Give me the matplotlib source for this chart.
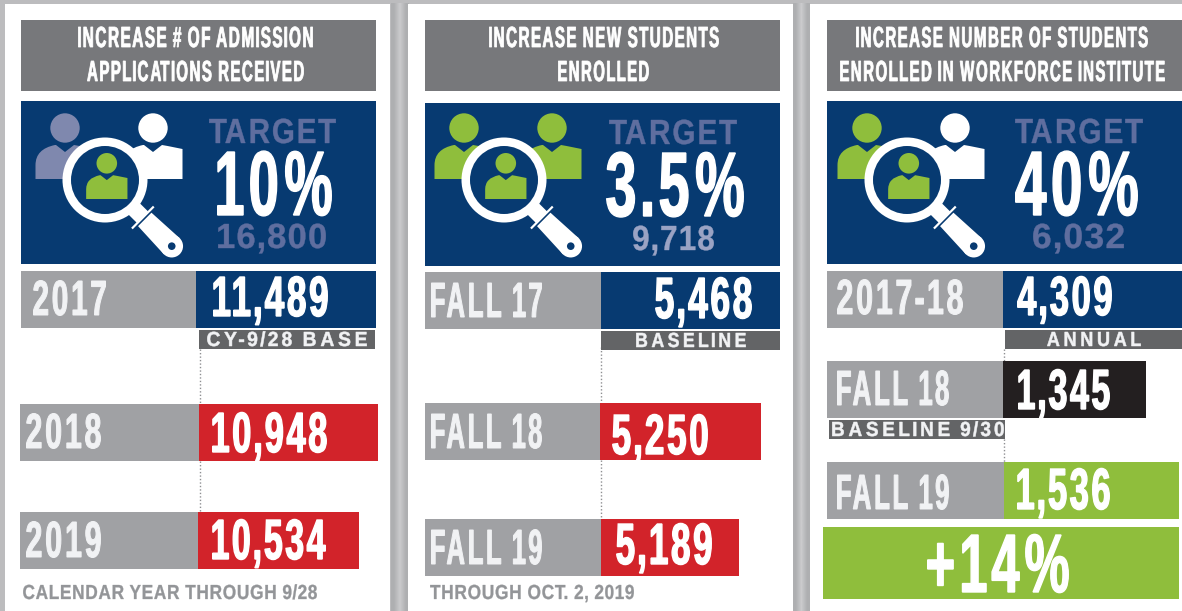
import numpy as np
import matplotlib
matplotlib.use("Agg")
import matplotlib.pyplot as plt
from matplotlib.patches import Rectangle, Circle, PathPatch, Polygon
from matplotlib.path import Path
from matplotlib.patheffects import AbstractPathEffect
from matplotlib.transforms import Affine2D
from matplotlib.textpath import TextPath
from matplotlib.font_manager import FontProperties
from matplotlib.colors import LinearSegmentedColormap

# ---- data ----
titles = [["INCREASE # OF ADMISSION", "APPLICATIONS RECEIVED"],
          ["INCREASE NEW STUDENTS", "ENROLLED"],
          ["INCREASE NUMBER OF STUDENTS", "ENROLLED IN WORKFORCE INSTITUTE"]]
target_pct = ["10%", "3.5%", "40%"]
target_val = [16800, 9718, 6032]
labels_1 = ["2017", "2018", "2019"]
values_1 = [11489, 10948, 10534]
labels_2 = ["FALL 17", "FALL 18", "FALL 19"]
values_2 = [5468, 5250, 5189]
labels_3 = ["2017-18", "FALL 18", "FALL 19"]
values_3 = [4309, 1345, 1536]
change_3 = "+14%"
tags = ["CY-9/28 BASE", "BASELINE", "ANNUAL", "BASELINE 9/30"]
notes = ["CALENDAR YEAR THROUGH 9/28", "THROUGH OCT. 2, 2019"]

# ---- colours ----
GREY_T = "#77787b"; BLUE = "#073a71"; GREY = "#a0a1a4"; LBL = "#f1f2f4"
RED = "#d2232a"; GREEN = "#8fbe3c"; BLACK = "#231f20"; TAG = "#636466"
FOOT = "#939598"; DIM = "#5f6e9f"; PALE = "#9aa3c4"; ICON_DIM = "#7f88ae"

W, H = 1182, 611
fig = plt.figure(figsize=(W / 100, H / 100), dpi=100, facecolor="white")
ax = fig.add_axes([0, 0, 1, 1])
ax.set_xlim(0, W); ax.set_ylim(H, 0); ax.axis("off")
FP = FontProperties(family="Liberation Sans", weight="bold")


def condense(path, k):
    """Narrow each glyph about its own centre, which keeps its place and opens the gaps."""
    v = path.vertices.copy(); c = path.codes
    if c is None or k == 1:
        return path
    starts = list(np.where(c == Path.MOVETO)[0]) + [len(c)]
    subs = []
    for s, e in zip(starts[:-1], starts[1:]):
        idx = np.arange(s, e)[c[s:e] != Path.CLOSEPOLY]
        subs.append((v[idx, 0].min(), v[idx, 0].max(), idx))
    subs.sort(key=lambda t: t[0])
    clusters = []
    for a, b, idx in subs:
        if clusters and a < clusters[-1][1]:
            clusters[-1][1] = max(clusters[-1][1], b)
            clusters[-1][2].append(idx)
        else:
            clusters.append([a, b, [idx]])
    for a, b, ids in clusters:
        m = (a + b) / 2
        for idx in ids:
            v[idx, 0] = m + (v[idx, 0] - m) * k
    return Path(v, c)


class Fit(AbstractPathEffect):
    """Draw a text's outline at the width and height it has in the design (condensed face)."""
    def __init__(self, x0, x1, base_px, sy, stroke=0.0, k=1.0):
        super().__init__()
        self.x0, self.x1, self.base_px, self.sy, self.stroke, self.k = x0, x1, base_px, sy, stroke, k

    def draw_path(self, renderer, gc, tpath, affine, rgbFace=None):
        tp = condense(tpath, self.k)
        ext = tp.get_extents(affine)
        pad = self.stroke / 2
        sx = (self.x1 - self.x0 - 2 * pad) / max(ext.width, 1e-6)
        a = (affine + Affine2D().translate(-ext.x0, -self.base_px).scale(sx, self.sy)
             .translate(self.x0 + pad, self.base_px))
        if self.stroke:
            g = renderer.new_gc(); g.copy_properties(gc)
            g.set_linewidth(self.stroke * 72 / 100); g.set_foreground(rgbFace)
            g.set_joinstyle("miter")
            renderer.draw_path(g, tp, a, rgbFace)
            g.restore()
        else:
            renderer.draw_path(gc, tp, a, rgbFace)


def txt(s, x0, x1, top, base, color, stroke=0.0, k=1.0, max_f=1.0):
    size = (base - top) / 0.688 * 0.72
    natural = TextPath((0, 0), s, size=size * 100 / 72, prop=FP).get_extents().width
    nominal = size * min(max_f, (x1 - x0) / natural)
    ax.text(x0, base, s, ha="left", va="baseline", fontsize=nominal, color=color,
            fontproperties=FP.copy(), zorder=6, clip_on=False,
            path_effects=[Fit(x0, x1, H - base, size / nominal, stroke, k)]).set_fontsize(nominal)


def rect(x0, y0, x1, y1, color, z=1):
    ax.add_patch(Rectangle((x0, y0), x1 - x0, y1 - y0, fc=color, ec="none", lw=0, zorder=z))


def strip(x0, x1, y0, y1, c_edge, c_mid):
    img = np.array([[0.0, 1.0, 0.0]])
    cm = LinearSegmentedColormap.from_list("s", [c_edge, c_mid])
    ax.imshow(img, extent=(x0, x1, y1, y0), cmap=cm, aspect="auto",
              interpolation="bilinear", zorder=0.5, vmin=0, vmax=1)


def person(cx, head_y, s, color, z):
    ax.add_patch(Circle((cx, head_y), 14.7 * s, fc=color, ec="none", zorder=z))
    y = head_y + 17 * s
    hw = 29.5 * s; h = 34 * s
    v = [(-hw, h), (-hw, 20 * s), (-hw, 4 * s), (-10 * s, 0), (-9 * s, 0),
         (0, 7 * s), (9 * s, 0), (10 * s, 0), (hw, 4 * s), (hw, 20 * s), (hw, h), (-hw, h)]
    c = [Path.MOVETO, Path.LINETO, Path.CURVE3, Path.CURVE3, Path.LINETO,
         Path.LINETO, Path.LINETO, Path.CURVE3, Path.CURVE3, Path.LINETO,
         Path.LINETO, Path.CLOSEPOLY]
    ax.add_patch(PathPatch(Path([(cx + a, y + b) for a, b in v], c), fc=color, ec="none", zorder=z))


def icon(dx, dy, left_col, right_col):
    person(65 + dx, 128 + dy, 1, left_col, 3)
    person(153 + dx, 128 + dy, 1, right_col, 3)
    cx, cy = 105 + dx, 180 + dy
    ax.add_patch(Circle((cx, cy), 42.5, fc="white", ec="none", zorder=4))
    ax.add_patch(Circle((cx, cy), 34, fc=BLUE, ec="none", zorder=4.1))
    person(106.8 + dx, 163.3 + dy, 0.70, GREEN, 4.2)
    u = np.array([0.71, 0.704]); n = np.array([-0.704, 0.71]); c0 = np.array([cx, cy])
    def quad(t0, t1, w0, w1, col, z):
        p = [c0 + u * t0 - n * w0, c0 + u * t1 - n * w1, c0 + u * t1 + n * w1, c0 + u * t0 + n * w0]
        ax.add_patch(Polygon(p, closed=True, fc=col, ec="none", zorder=z))
    quad(41, 53, 8, 8, "white", 3.9)
    quad(52.2, 54.4, 15.5, 15.5, "white", 5)
    quad(56, 94, 9.5, 11.3, "white", 5.2)
    e = c0 + u * 94
    ax.add_patch(Circle(e, 11.3, fc="white", ec="none", zorder=5.3))
    ax.add_patch(Circle(e, 3.8, fc=BLUE, ec="none", zorder=5.4))


def dotted(x, y0, y1):
    ax.plot([x, x], [y0, y1], color="#8e8f92", lw=1.0, ls=(0, (1, 1.5)), zorder=1, solid_capstyle="butt")


# ---- background cards ----
rect(0, 0, W, H, "#bcbcbe", 0)
for x0, x1 in [(5, 390), (408, 793), (810, 1182)]:
    rect(x0, 4, x1, H, "white", 0.8)
strip(390.5, 408, 3, H, "#aeafb1", "#cbcbcd")
strip(793, 810, 3, H, "#aeafb1", "#cbcbcd")

# ---- title bands ----
bands = [(21, 376), (425, 780), (827, 1182)]
title_x = [[(78, 313), (87, 304)], [(489, 719), (558, 649)], [(856, 1148), (840, 1165)]]
for (b0, b1), t, xs in zip(bands, titles, title_x):
    rect(b0, 20, b1, 91, GREY_T)
    for line, (a0, a1), (top, base) in zip(t, xs, [(27, 47), (61, 81)]):
        txt(line, a0, a1, top, base, "white", 0.8, 0.88)

# ---- target boxes ----
boxes = [(21, 376, 101, 264), (425, 780, 103, 266), (827, 1182, 101, 264)]
for b in boxes:
    rect(b[0], b[2], b[1], b[3], BLUE, 2)
icon(0, 0, ICON_DIM, "white")
icon(399, 0, GREEN, GREEN)
icon(802, 0, GREEN, "white")

t_x = [(209, 336), (609, 737), (1015, 1143)]
t_y = [(119, 143), (120, 144), (119, 143)]
p_x = [(217, 332), (606, 744), (1015, 1138)]
p_y = [(152, 215), (153, 216), (152, 215)]
v_x = [(218, 326), (633, 714), (1033, 1124)]
v_y = [(224, 248), (226, 250), (224, 248)]
v_c = [DIM, PALE, DIM]
for i in range(3):
    txt("TARGET", *t_x[i], *t_y[i], DIM, 0.4, 0.92)
    txt(target_pct[i], *p_x[i], *p_y[i], "white", 1.4, 0.88, 0.4)
    txt(f"{target_val[i]:,}", *v_x[i], *v_y[i], v_c[i], 0.4, 0.94)


# ---- rows: gray part, value part, label text, value text ----
def row(gx0, sx, vx1, y0, y1, col, label, value, lx, lt, lb, vx, vt, vb):
    rect(gx0, y0, sx, y1, GREY, 2)
    rect(sx, y0, vx1, y1, col, 2)
    txt(label, *lx, lt, lb, LBL, 1.0, 0.86)
    txt(f"{value:,}", *vx, vt, vb, "white", 1.4, 0.88)


row(21, 196, 375.5, 271, 328, BLUE, labels_1[0], values_1[0], (33, 106), 281, 315, (213, 328), 277, 316)
row(20, 199, 378, 404, 461, RED, labels_1[1], values_1[1], (26, 101), 414, 448, (212, 327), 413, 452)
row(20, 198, 359, 512, 569, RED, labels_1[2], values_1[2], (26, 101), 522, 557, (212, 326), 520, 559)

row(425, 601, 780, 272, 329, BLUE, labels_2[0], values_2[0], (431, 542), 283, 317, (655, 752), 278, 318)
row(425, 600, 761, 403, 460, RED, labels_2[1], values_2[1], (431, 542), 414, 448, (612, 708), 415, 454)
row(425, 601, 739, 519, 576, RED, labels_2[2], values_2[2], (431, 542), 530, 564, (616, 712), 524, 564)

row(827, 1003, 1182, 271, 328, BLUE, labels_3[0], values_3[0], (837, 963), 280, 314, (1017, 1112), 277, 315)
row(827, 1003, 1146, 361, 418, BLACK, labels_3[1], values_3[1], (837, 949), 371, 405, (1018, 1110), 370, 409)
row(827, 1004, 1179, 462, 519, GREEN, labels_3[2], values_3[2], (837, 949), 475, 509, (1017, 1110), 469, 509)

rect(823, 527, 1179, 599, GREEN, 2)
txt(change_3, 927, 1069, 535, 592, "white", 1.4, 0.88)

# ---- tag bands ----
tag_geo = [(199, 375, 330, 349, 207, 367, 332, 346),
           (601, 780, 331, 350, 636, 746, 333, 347),
           (1005, 1182, 330, 349, 1047, 1141, 332, 346),
           (829, 1005, 420, 439, 832, 1004, 422, 436)]
for s, g in zip(tags, tag_geo):
    rect(g[0], g[2], g[1], g[3], TAG, 2)
    txt(s, g[4], g[5], g[6], g[7], LBL, 0.5, 0.78)

# ---- dotted guides ----
for x, y0, y1 in [(199.5, 349, 404), (199.5, 461, 512), (601, 347, 403), (601, 460, 519),
                  (1004, 349, 361), (1004, 439, 462)]:
    dotted(x, y0, y1)

# ---- footnotes ----
txt(notes[0], 23, 317, 585, 599, FOOT, 0.3, 0.95)
txt(notes[1], 430, 634, 585, 599, FOOT, 0.3, 0.95)

ax.set_xlim(0, W); ax.set_ylim(H, 0)
fig.savefig("out.png", dpi=100, facecolor="white")
